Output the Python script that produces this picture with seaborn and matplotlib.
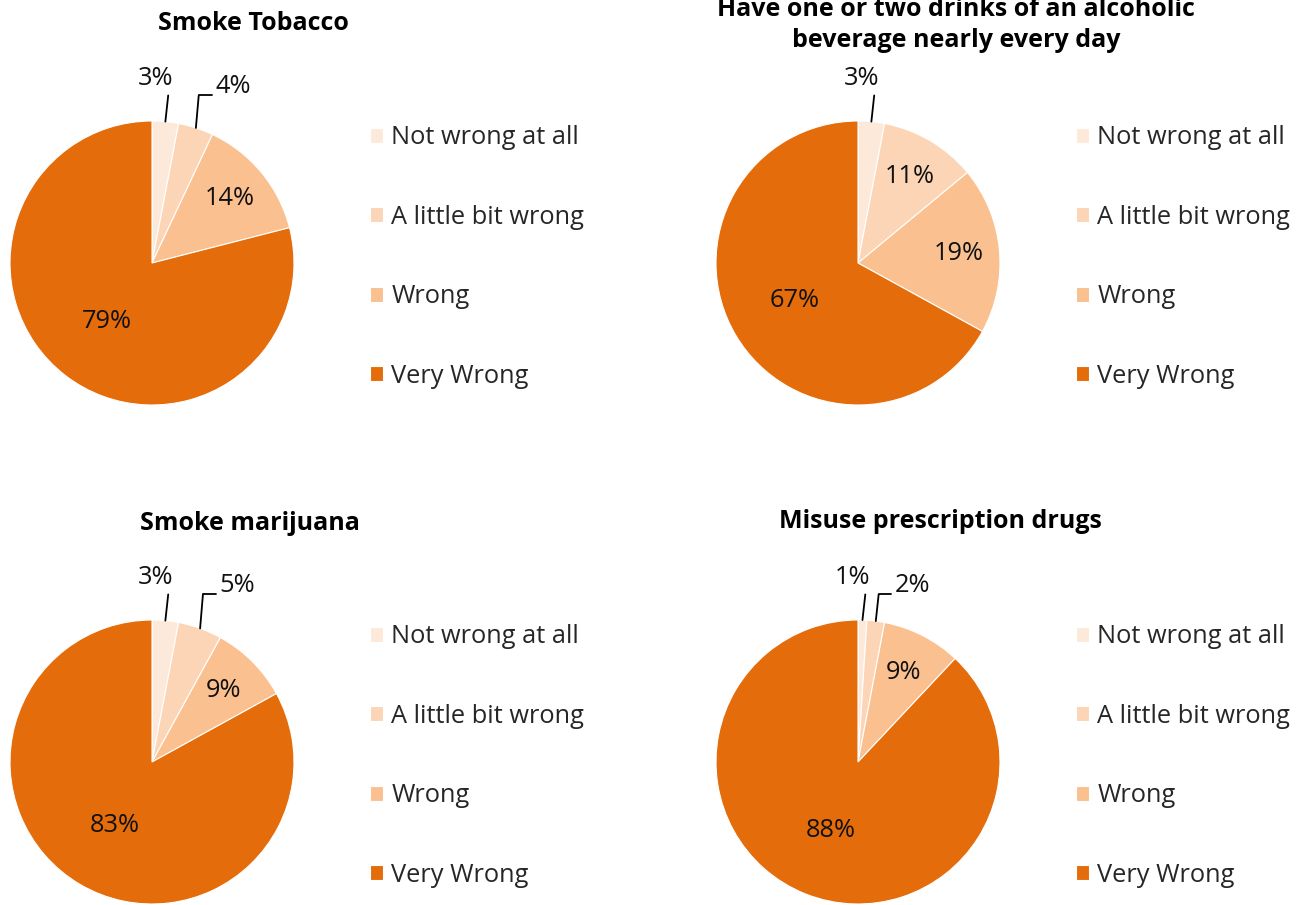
import numpy as np
import matplotlib
matplotlib.use("Agg")
import matplotlib.pyplot as plt
import seaborn as sns

# ---- data ----
categories = ["Not wrong at all", "A little bit wrong", "Wrong", "Very Wrong"]
titles = ["Smoke Tobacco",
          "Have one or two drinks of an alcoholic\nbeverage nearly every day",
          "Smoke marijuana",
          "Misuse prescription drugs"]
tobacco = [3, 4, 14, 79]
alcohol = [3, 11, 19, 67]
marijuana = [3, 5, 9, 83]
prescription = [1, 2, 9, 88]
series = [tobacco, alcohol, marijuana, prescription]

colors = ["#FDE9D9", "#FBD5B5", "#FAC090", "#E46C0A"]

sns.set_theme(style="white")
plt.rcParams["font.family"] = ["Open Sans", "DejaVu Sans"]

W, H = 1308, 905
fig = plt.figure(figsize=(W / 100, H / 100), dpi=100)
pal = sns.color_palette(colors)

R = 142.0          # pie radius in px
K = 1.45           # axes half-extent in pie radii
panels = [(152, 263), (858, 263), (152, 762), (858, 762)]
title_pos = [(253, 24), (956, 25), (250, 523), (940, 521)]
FS = 18.3
TFS = 18.0


def fx(x):
    return x / W


def fy(y):
    return 1 - y / H


for i, (vals, (cx, cy)) in enumerate(zip(series, panels)):
    side = 2 * R * K
    ax = fig.add_axes([fx(cx - side / 2), fy(cy + side / 2), side / W, side / H])
    wedges, _ = ax.pie(vals, colors=pal, startangle=90, counterclock=False,
                       radius=1.0, wedgeprops=dict(linewidth=0.8, edgecolor="white"))
    ax.set_xlim(-K, K)
    ax.set_ylim(-K, K)
    ax.set_aspect("equal")
    ax.axis("off")

    total = float(sum(vals))
    cum = 0.0
    small_idx = 0
    n_small = sum(1 for v in vals if v / total < 0.06)
    for j, v in enumerate(vals):
        frac = v / total
        mid = 90 - 360 * (cum + frac / 2)
        cum += frac
        a = np.deg2rad(mid)
        txt = f"{v}%"
        if frac >= 0.5:
            d = 0.52
            ax.text(d * np.cos(a), d * np.sin(a), txt, ha="center", va="center",
                    fontsize=FS, color="#111111")
        elif frac >= 0.06:
            d = 0.71
            ax.text(d * np.cos(a), d * np.sin(a), txt, ha="center", va="center",
                    fontsize=FS, color="#111111")
        else:
            ex, ey = np.cos(a), np.sin(a)
            top = 1.18
            lx = ex + 0.02
            ax.plot([ex, lx], [ey, top], color="black", lw=1.3)
            if n_small == 2 and small_idx == 1:
                ax.plot([lx, lx + 0.09], [top, top], color="black", lw=1.3)
                ax.text(lx + 0.24, top + 0.06, txt, ha="center", va="center",
                        fontsize=FS, color="#111111")
            else:
                ax.text(lx - 0.09, top + 0.12, txt, ha="center", va="center",
                        fontsize=FS, color="#111111")
            small_idx += 1

    ax.legend(wedges, categories, loc="center left",
              bbox_to_anchor=(fx(cx + 218), fy(cy - 6)),
              bbox_transform=fig.transFigure, frameon=False, fontsize=FS,
              handlelength=0.52, handleheight=0.52, handletextpad=0.32,
              labelspacing=2.14, borderaxespad=0, borderpad=0)

    tx, ty = title_pos[i]
    fig.text(fx(tx), fy(ty), titles[i], ha="center", va="center",
             fontsize=TFS, fontweight="bold", color="black", linespacing=1.32)

fig.savefig("out.png", dpi=100, facecolor="white")
